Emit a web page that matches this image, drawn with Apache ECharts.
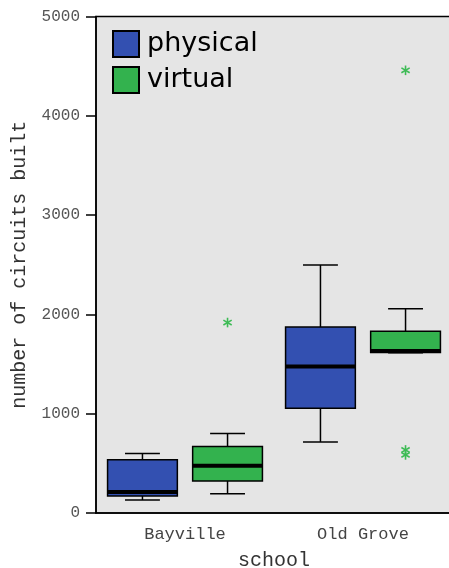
<!DOCTYPE html>
<html>
<head>
<meta charset="utf-8">
<script src="https://cdn.jsdelivr.net/npm/echarts@6/dist/echarts.min.js"></script>
<style>html,body{margin:0;padding:0;background:#fff;}#c{width:449px;height:568px;}</style>
</head>
<body>
<div id="c"></div>
<script>
const categories = ['Bayville', 'Old Grove'];
// [min, Q1, median, Q3, max] per category
const physicalStats = [
  [131, 171, 212, 537, 598],
  [716, 1055, 1476, 1872, 2497]
];
const virtualStats = [
  [195, 322, 477, 669, 800],
  [1615, 1616, 1632, 1831, 2056]
];
const virtualOutlierCats = ['Bayville', 'Old Grove', 'Old Grove', 'Old Grove'];
const virtualOutlierValues = [1918, 4458, 635, 585];
const yTicks = [0, 1000, 2000, 3000, 4000, 5000];

const BLUE = '#3350B1', GREEN = '#33B24E', STAR = '#3DBB55';
const BOX_OFFSET = 0.239, BOX_HALF = 0.196;

function boxRenderer(sign, color) {
  return function (params, api) {
    const cat = api.value(0);
    const band = api.size([1, 0])[0];
    const cx = api.coord([cat, 0])[0] + sign * band * BOX_OFFSET;
    const hw = band * BOX_HALF;
    const y = k => api.coord([cat, api.value(k)])[1];
    const yMin = y(1), yQ1 = y(2), yMed = y(3), yQ3 = y(4), yMax = y(5);
    const ls = { stroke: '#000', lineWidth: 1.5 };
    return { type: 'group', children: [
      { type: 'line', shape: { x1: cx, y1: yQ3, x2: cx, y2: yMax }, style: ls },
      { type: 'line', shape: { x1: cx, y1: yQ1, x2: cx, y2: yMin }, style: ls },
      { type: 'line', shape: { x1: cx - hw / 2, y1: yMax, x2: cx + hw / 2, y2: yMax }, style: ls },
      { type: 'line', shape: { x1: cx - hw / 2, y1: yMin, x2: cx + hw / 2, y2: yMin }, style: ls },
      { type: 'rect', shape: { x: cx - hw, y: yQ3, width: 2 * hw, height: yQ1 - yQ3 }, style: { fill: color, stroke: '#000', lineWidth: 1.5 } },
      { type: 'line', shape: { x1: cx - hw, y1: yMed, x2: cx + hw, y2: yMed }, style: { stroke: '#000', lineWidth: 4 } }
    ] };
  };
}

function starRenderer(sign, color) {
  return function (params, api) {
    const cat = api.value(0);
    const band = api.size([1, 0])[0];
    const p = api.coord([cat, api.value(1)]);
    const cx = p[0] + sign * band * BOX_OFFSET, cy = p[1];
    const r = 4.8, dx = r * Math.cos(Math.PI / 6), dy = r * Math.sin(Math.PI / 6);
    const ls = { stroke: color, lineWidth: 1.6 };
    return { type: 'group', children: [
      { type: 'line', shape: { x1: cx, y1: cy - r, x2: cx, y2: cy + r }, style: ls },
      { type: 'line', shape: { x1: cx - dx, y1: cy - dy, x2: cx + dx, y2: cy + dy }, style: ls },
      { type: 'line', shape: { x1: cx - dx, y1: cy + dy, x2: cx + dx, y2: cy - dy }, style: ls }
    ] };
  };
}

const chart = echarts.init(document.getElementById('c'), null, { renderer: 'canvas' });
chart.setOption({
  animation: false,
  backgroundColor: '#fff',
  grid: {
    left: 96, right: -3, top: 16.5, bottom: 55,
    containLabel: false, outerBoundsMode: 'none',
    show: true, backgroundColor: '#E5E5E5', borderColor: '#000', borderWidth: 1.5
  },
  legend: {
    left: 107, top: 25, orient: 'vertical',
    itemWidth: 26, itemHeight: 26, itemGap: 8,
    textStyle: { fontFamily: 'DejaVu Sans', fontSize: 27, color: '#000', lineHeight: 27, padding: [0, 0, 0, 3] },
    data: [
      { name: 'physical', icon: 'rect', itemStyle: { color: BLUE, borderColor: '#000', borderWidth: 2 } },
      { name: 'virtual', icon: 'rect', itemStyle: { color: GREEN, borderColor: '#000', borderWidth: 2 } }
    ]
  },
  xAxis: {
    type: 'category', data: categories,
    name: 'school', nameLocation: 'middle', nameGap: 38,
    nameTextStyle: { fontFamily: 'Liberation Mono', fontSize: 20, color: '#333' },
    axisLine: { lineStyle: { color: '#000', width: 1.5 } },
    axisTick: { alignWithLabel: true, length: 10, lineStyle: { color: '#000', width: 1.5 } },
    axisLabel: { fontFamily: 'Liberation Mono', fontSize: 17, color: '#444', margin: 13 },
    splitLine: { show: false }
  },
  yAxis: {
    type: 'value', min: 0, max: 5000, interval: 1000,
    name: 'number of circuits built', nameLocation: 'middle', nameGap: 66,
    nameTextStyle: { fontFamily: 'Liberation Mono', fontSize: 20, color: '#333' },
    axisLine: { show: true, lineStyle: { color: '#000', width: 1.5 } },
    axisTick: { show: true, length: 10, lineStyle: { color: '#000', width: 1.5 } },
    axisLabel: { fontFamily: 'Liberation Mono', fontSize: 16, color: '#555', margin: 16,
      formatter: v => yTicks.includes(v) ? String(v) : '' },
    splitLine: { show: false }
  },
  series: [
    { name: 'physical', type: 'custom', renderItem: boxRenderer(-1, BLUE),
      encode: { x: 0, y: [1, 2, 3, 4, 5] }, itemStyle: { color: BLUE },
      data: categories.map((c, i) => [c].concat(physicalStats[i])) },
    { name: 'virtual', type: 'custom', renderItem: boxRenderer(1, GREEN),
      encode: { x: 0, y: [1, 2, 3, 4, 5] }, itemStyle: { color: GREEN },
      data: categories.map((c, i) => [c].concat(virtualStats[i])) },
    { name: 'virtual', type: 'custom', renderItem: starRenderer(1, STAR),
      encode: { x: 0, y: 1 }, itemStyle: { color: GREEN },
      data: virtualOutlierCats.map((c, i) => [c, virtualOutlierValues[i]]) }
  ]
});
</script>
</body>
</html>
